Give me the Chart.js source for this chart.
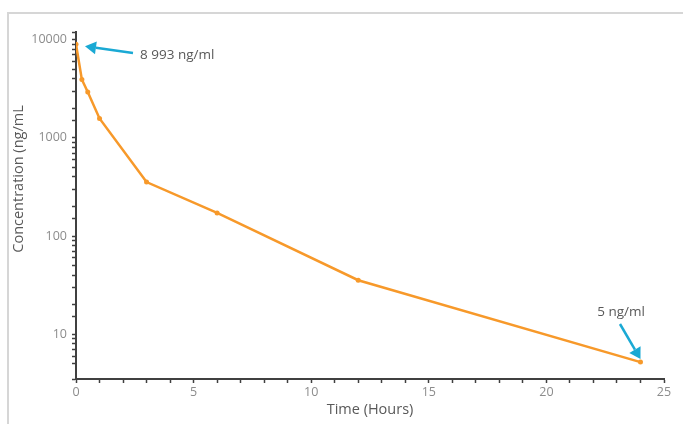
<!DOCTYPE html>
<html>
<head>
<meta charset="utf-8">
<script src="https://cdn.jsdelivr.net/npm/chart.js@4"></script>
<style>
  html, body { margin:0; padding:0; background:#fff; }
  #wrap { width:683px; height:424px; position:relative; }
</style>
</head>
<body>
<div id="wrap"><canvas id="pkChart"></canvas></div>
<script>
// time points (hours) and concentration (ng/mL)
const timeHours = [0, 0.25, 0.5, 1, 3, 6, 12, 24];
const concentration = [8993, 3930, 2940, 1580, 355, 172, 35.5, 5.2];
const xTickLabels = [0, 5, 10, 15, 20, 25];
const yTickLabels = [10, 100, 1000, 10000];
const peakLabel = '8 993 ng/ml';
const lastLabel = '5 ng/ml';

const ORANGE = '#f7992a';
const ARROW = '#1aa9d4';
const AXIS = '#404040';
const FONT = '"Open Sans", sans-serif';

function arrow(ctx, x1, y1, x2, y2) {
  const ang = Math.atan2(y2 - y1, x2 - x1);
  const hl = 11, hw = 6.5;
  const bx = x2 - hl * Math.cos(ang), by = y2 - hl * Math.sin(ang);
  ctx.save();
  ctx.strokeStyle = ARROW; ctx.fillStyle = ARROW; ctx.lineWidth = 2.5;
  ctx.beginPath(); ctx.moveTo(x1, y1); ctx.lineTo(bx, by); ctx.stroke();
  ctx.beginPath();
  ctx.moveTo(x2, y2);
  ctx.lineTo(bx + hw * Math.sin(ang), by - hw * Math.cos(ang));
  ctx.lineTo(bx - hw * Math.sin(ang), by + hw * Math.cos(ang));
  ctx.closePath(); ctx.fill();
  ctx.restore();
}

const decorations = {
  id: 'decorations',
  beforeDraw(chart) {
    const ctx = chart.ctx;
    ctx.save();
    ctx.fillStyle = '#fff';
    ctx.fillRect(0, 0, chart.width, chart.height);
    // outer frame (top + left only visible)
    ctx.strokeStyle = '#d6d6d6'; ctx.lineWidth = 2;
    ctx.beginPath();
    ctx.moveTo(8, 424); ctx.lineTo(8, 13); ctx.lineTo(683, 13);
    ctx.stroke();
    ctx.restore();
  },
  afterDraw(chart) {
    const ctx = chart.ctx;
    const xs = chart.scales.x, ys = chart.scales.y;
    const area = chart.chartArea;
    ctx.save();
    // axis titles
    ctx.fillStyle = '#595959';
    ctx.font = '14.5px ' + FONT;
    ctx.textAlign = 'center'; ctx.textBaseline = 'middle';
    ctx.fillText('Time (Hours)', (area.left + area.right) / 2, 410);
    ctx.save();
    ctx.translate(19, 179);
    ctx.rotate(-Math.PI / 2);
    ctx.fillText('Concentration (ng/mL', 0, 0);
    ctx.restore();

    // annotations
    const px = xs.getPixelForValue(timeHours[0]);
    const py = ys.getPixelForValue(concentration[0]);
    arrow(ctx, 133, 53, px + 9, py + 2);
    ctx.font = '13.5px ' + FONT;
    ctx.textAlign = 'left';
    ctx.fillText(peakLabel, 140, 55);

    const n = timeHours.length - 1;
    const lx = xs.getPixelForValue(timeHours[n]);
    const ly = ys.getPixelForValue(concentration[n]);
    arrow(ctx, 620, 324, lx, ly - 3);
    ctx.textAlign = 'center';
    ctx.fillText(lastLabel, 621, 312);
    ctx.restore();
  }
};

new Chart(document.getElementById('pkChart'), {
  type: 'line',
  data: {
    datasets: [{
      data: timeHours.map((t, i) => ({ x: t, y: concentration[i] })),
      borderColor: ORANGE,
      backgroundColor: ORANGE,
      borderWidth: 2.5,
      pointRadius: 2.5,
      pointBorderWidth: 0,
      tension: 0
    }]
  },
  options: {
    responsive: true,
    maintainAspectRatio: false,
    animation: false,
    layout: { padding: { top: 32, right: 19, left: 0, bottom: 0 } },
    plugins: { legend: { display: false }, tooltip: { enabled: false } },
    scales: {
      x: {
        type: 'linear',
        min: 0, max: 25,
        ticks: {
          stepSize: 1,
          autoSkip: false,
          maxRotation: 0,
          padding: 2,
          color: '#8c8c8c',
          font: { family: FONT, size: 12.5 },
          callback: v => xTickLabels.includes(v) ? String(v) : ''
        },
        grid: { drawOnChartArea: false, tickLength: 4, tickColor: AXIS, tickWidth: 1.5 },
        border: { color: AXIS, width: 2 },
        afterFit(s) { s.height = 45; }
      },
      y: {
        type: 'logarithmic',
        min: 3.5, max: 12000,
        ticks: {
          autoSkip: false,
          padding: 5,
          color: '#8c8c8c',
          font: { family: FONT, size: 12.5 },
          callback: v => yTickLabels.includes(v) ? String(v) : ''
        },
        grid: { drawOnChartArea: false, tickLength: 4, tickColor: AXIS, tickWidth: 1.5 },
        border: { color: AXIS, width: 2 },
        afterFit(s) { s.width = 76; }
      }
    }
  },
  plugins: [decorations]
});
</script>
</body>
</html>
